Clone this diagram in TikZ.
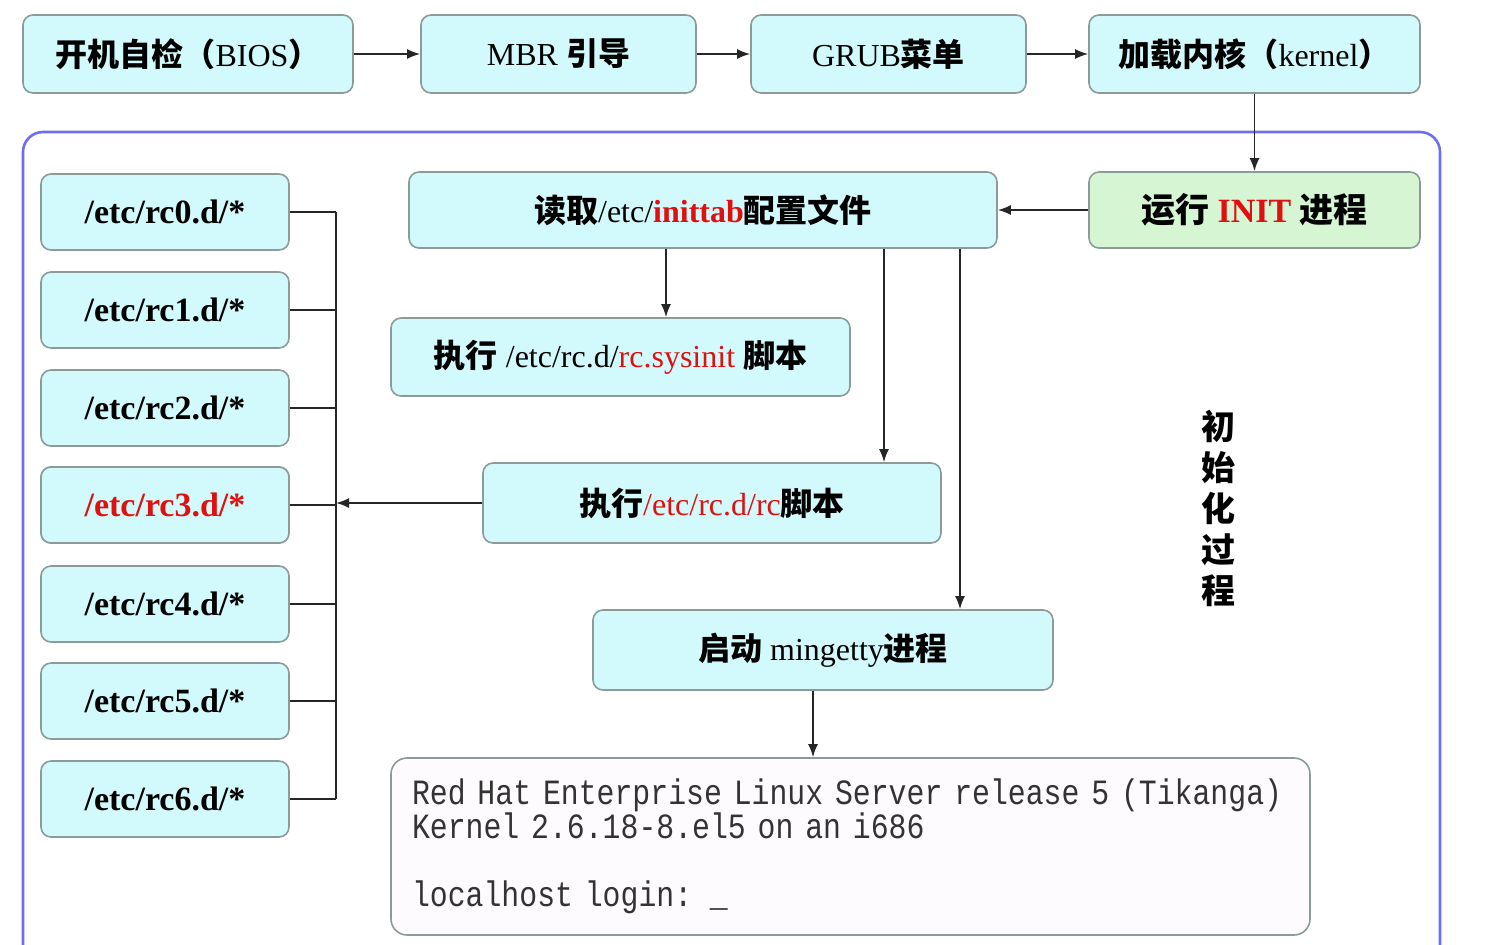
\documentclass[tikz,border=0pt]{standalone}
\usepackage{fontspec}
\setmainfont{Liberation Serif}
\newfontfamily\cjk{Noto Sans CJK SC}
\newfontfamily\termfont{Liberation Mono}[FakeStretch=0.84]
\usetikzlibrary{arrows.meta}

\definecolor{boxcyan}{HTML}{D2FAFC}
\definecolor{boxgreen}{HTML}{D6F5D2}
\definecolor{boxline}{HTML}{8C9A9A}
\definecolor{frameblue}{HTML}{6E6EF5}
\definecolor{hired}{HTML}{E01010}
\definecolor{termfill}{HTML}{FDFBFD}

\newcommand{\zh}[1]{{\cjk\bfseries #1}}
\newcommand{\hl}[1]{\textcolor{hired}{#1}}

\tikzset{
  box/.style={draw=boxline, fill=boxcyan, rounded corners=5pt, line width=0.8pt,
    inner sep=0pt, minimum height=39pt, font=\fontsize{16}{19}\selectfont},
  rcbox/.style={box, minimum width=124pt, minimum height=38pt,
    font=\fontsize{17}{19}\selectfont\bfseries},
  conn/.style={line width=0.9pt, black!85},
  arr/.style={conn, -{Latex[length=6.5pt,width=5pt]}},
}

\begin{document}
\begin{tikzpicture}[x=0.5pt, y=-0.5pt]
    \useasboundingbox (0,0) rectangle (1498,944);

    % outer frame of the init part
    \draw[frameblue, line width=1.3pt, rounded corners=10pt]
        (23,1000) -- (23,132) -- (1440,132) -- (1440,1000);

    % boot chain
    \node[box, minimum width=165pt] (bios) at (188,54) {\zh{开机自检（}BIOS\zh{）}};
    \node[box, minimum width=137.5pt] (mbr) at (558.5,54) {MBR \zh{引导}};
    \node[box, minimum width=137.5pt] (grub) at (888.5,54) {GRUB\zh{菜单}};
    \node[box, minimum width=165.5pt] (kernel) at (1254.5,54) {\zh{加载内核（}kernel\zh{）}};

    \node[box, fill=boxgreen, minimum width=165.5pt, minimum height=38pt,
        font=\fontsize{17}{20}\selectfont] (init) at (1254.5,210)
        {\zh{运行} \hl{\bfseries INIT} \zh{进程}};

    \node[box, minimum width=294pt, minimum height=38pt] (inittab) at (703,210)
        {\zh{读取}/etc/\hl{\bfseries inittab}\zh{配置文件}};

    \node[box, minimum width=229.5pt] (sysinit) at (620.5,357)
        {\zh{执行} /etc/rc.d/\hl{rc.sysinit} \zh{脚本}};

    \node[box, minimum width=229pt, minimum height=40pt] (rcscript) at (712,503)
        {\zh{执行}\hl{/etc/rc.d/rc}\zh{脚本}};

    \node[box, minimum width=230pt, minimum height=40pt] (mingetty) at (823,650)
        {\zh{启动} mingetty\zh{进程}};

    \node[draw=boxline, fill=termfill, rounded corners=8pt, line width=0.8pt,
        text width=438.5pt, inner xsep=10.5pt, minimum height=88.5pt, align=left,
        text=black!80, font=\termfont\fontsize{17.75}{17}\selectfont] (term) at (850.5,846.5)
        {Red Hat Enterprise Linux Server release 5 (Tikanga)\\
         Kernel 2.6.18-8.el5 on an i686\\[17pt]
         localhost login: \_};

    \node[align=center, font=\cjk\bfseries\fontsize{17}{20.5}\selectfont] (label) at (1218,508)
        {初\\始\\化\\过\\程};

    % runlevel directories
    \foreach \i/\y in {0/212, 1/310, 2/408, 3/505, 4/604, 5/701, 6/799} {
        \node[rcbox] (rc\i) at (165,\y) {/etc/rc\i.d/*};
    }
    \node[rcbox, text=hired] (rc3) at (165,505) {/etc/rc3.d/*};

    \coordinate (bus) at (336,0);
    \foreach \i in {0,...,6} {
        \draw[conn] (rc\i.east) -- (bus |- rc\i.east);
    }
    \draw[conn] (bus |- rc0.east) -- (bus |- rc6.east);

    % arrows
    \draw[arr] (bios) -- (mbr);
    \draw[arr] (mbr) -- (grub);
    \draw[arr] (grub) -- (kernel);
    \draw[arr] (kernel) -- (init);
    \draw[arr] (init) -- (inittab);
    \draw[arr] ([xshift=-18.5pt]inittab.south) -- ([xshift=-18.5pt]inittab.south |- sysinit.north);
    \draw[arr] ([xshift=90.5pt]inittab.south) -- ([xshift=90.5pt]inittab.south |- rcscript.north);
    \draw[arr] ([xshift=128.5pt]inittab.south) -- ([xshift=128.5pt]inittab.south |- mingetty.north);
    \draw[arr] ([xshift=-5pt]mingetty.south) -- ([xshift=-5pt]mingetty.south |- term.north);
    \draw[arr] (rcscript.west) -- (bus |- rcscript.west);

\end{tikzpicture}
\end{document}
